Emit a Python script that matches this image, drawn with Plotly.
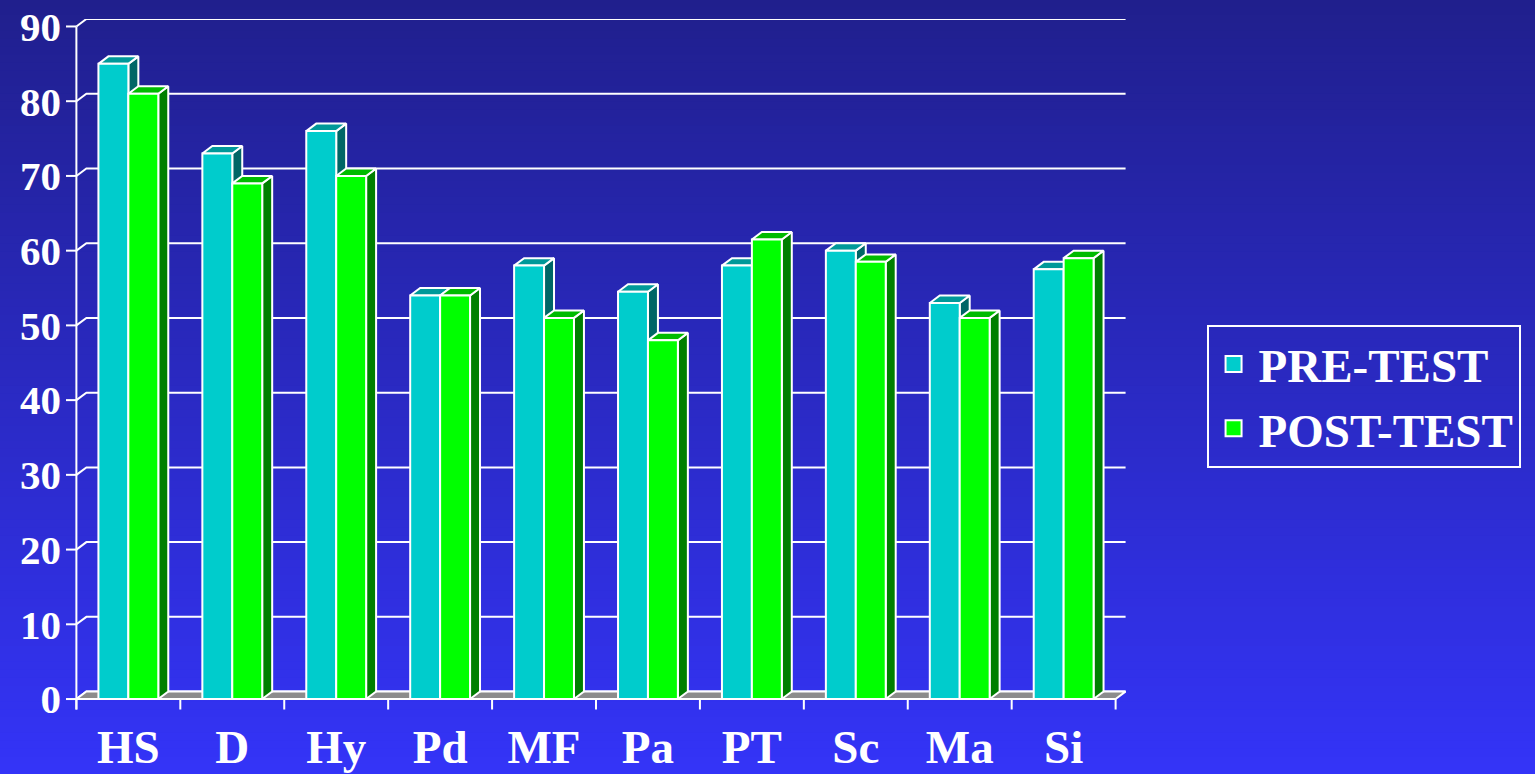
import plotly.graph_objects as go

categories = ["HS", "D", "Hy", "Pd", "MF", "Pa", "PT", "Sc", "Ma", "Si"]
pre_test = [85, 73, 76, 54, 58, 54.5, 58, 60, 53, 57.5]
post_test = [81, 69, 70, 54, 51, 48, 61.5, 58.5, 51, 59]
y_ticks = [0, 10, 20, 30, 40, 50, 60, 70, 80, 90]
series_names = ["PRE-TEST", "POST-TEST"]

# style
FRONT = ["#00CCCC", "#00FF00"]
TOP = ["#009999", "#00BB00"]
SIDE = ["#006666", "#007F00"]
W = 0.288      # bar width (category units)
DX = 0.096     # depth offset x (category units)
DY = 1.0       # depth offset y (value units)
XMIN, XMAX = -0.6, 9.6
YMIN, YMAX = -1.6, 91

fig = go.Figure()

# gradient background (paper shapes)
top_c = (32, 31, 140)
bot_c = (52, 52, 248)
N = 100
Y_TOP, Y_BOT = 1.04, -0.10
shapes = []
step = (Y_TOP - Y_BOT) / N
for k in range(N):
    t = k / (N - 1)
    c = tuple(int(round(top_c[j] + (bot_c[j] - top_c[j]) * t)) for j in range(3))
    y1 = Y_TOP - k * step + (0.05 if k == 0 else 0)
    y0 = Y_TOP - (k + 1) * step - (0.05 if k == N - 1 else 0.002)
    shapes.append(dict(type="rect", xref="paper", yref="paper", x0=-0.2, x1=1.6,
                       y0=y0, y1=y1, fillcolor="rgb(%d,%d,%d)" % c, line=dict(width=0),
                       layer="below"))

line_w = dict(color="white", width=2)

# back wall gridlines with diagonal connectors
gx, gy = [], []
for v in y_ticks:
    gx += [-0.5, -0.5 + DX, 9.5 + DX, None]
    gy += [v, v + DY, v + DY, None]
fig.add_trace(go.Scatter(x=gx, y=gy, mode="lines", line=line_w, showlegend=False, hoverinfo="skip"))

# floor
fig.add_trace(go.Scatter(x=[-0.5, 9.5, 9.5 + DX, -0.5 + DX, -0.5], y=[0, 0, DY, DY, 0],
                         mode="lines", fill="toself", fillcolor="#8C8C8C", line=line_w,
                         showlegend=False, hoverinfo="skip"))

# front axis and ticks
ax, ay = [-0.5, -0.5, None], [90, -1.4, None]
for v in y_ticks:
    ax += [XMIN, -0.5, None]
    ay += [v, v, None]
for k in range(len(categories) + 1):
    ax += [-0.5 + k, -0.5 + k, None]
    ay += [0, -1.4, None]
fig.add_trace(go.Scatter(x=ax, y=ay, mode="lines", line=line_w, showlegend=False, hoverinfo="skip"))

# 3D bars
for s, vals in enumerate([pre_test, post_test]):
    fx, fy, tx, ty, sx, sy = [], [], [], [], [], []
    for i, v in enumerate(vals):
        x0 = i - W + s * W
        x1 = x0 + W
        fx += [x0, x1, x1, x0, x0, None]
        fy += [0, 0, v, v, 0, None]
        tx += [x0, x1, x1 + DX, x0 + DX, x0, None]
        ty += [v, v, v + DY, v + DY, v, None]
        sx += [x1, x1 + DX, x1 + DX, x1, x1, None]
        sy += [0, DY, v + DY, v, 0, None]
    for xs, ys, col in [(sx, sy, SIDE[s]), (tx, ty, TOP[s]), (fx, fy, FRONT[s])]:
        fig.add_trace(go.Scatter(x=xs, y=ys, mode="lines", fill="toself", fillcolor=col,
                                 line=line_w, showlegend=False, hoverinfo="skip"))

# legend entries
for s, name in enumerate(series_names):
    fig.add_trace(go.Scatter(x=[None], y=[None], mode="markers", name=name,
                             marker=dict(symbol="square", size=26, color=FRONT[s],
                                         line=dict(color="white", width=2))))

font_fam = "Liberation Serif"
fig.update_layout(
    width=1535, height=774,
    margin=dict(l=65.6, r=408.6, t=18.6, b=62.7, autoexpand=False),
    paper_bgcolor="rgb(42,42,195)",
    plot_bgcolor="rgba(0,0,0,0)",
    shapes=shapes,
    showlegend=True,
    legend=dict(x=1.076, xanchor="left", y=0.5577, yanchor="top",
                bordercolor="white", borderwidth=2, bgcolor="rgba(0,0,0,0)",
                font=dict(family=font_fam, size=47, color="white", weight="bold"),
                itemwidth=40, tracegroupgap=0),
    xaxis=dict(range=[XMIN, XMAX], showgrid=False, zeroline=False, showline=False,
               tickvals=list(range(len(categories))), ticktext=categories, ticks="",
               tickfont=dict(family=font_fam, size=47, color="white", weight="bold"),
               ticklabelstandoff=4, automargin=False, fixedrange=True),
    yaxis=dict(range=[YMIN, YMAX], showgrid=False, zeroline=False, showline=False,
               tickvals=y_ticks, ticktext=[str(v) for v in y_ticks], ticks="",
               tickfont=dict(family=font_fam, size=41, color="white", weight="bold"),
               ticklabelstandoff=4, automargin=False, fixedrange=True),
)
fig.write_html("out.html", config={"displayModeBar": False},
               post_script="document.body.style.margin='0';document.body.style.overflow='hidden';")
